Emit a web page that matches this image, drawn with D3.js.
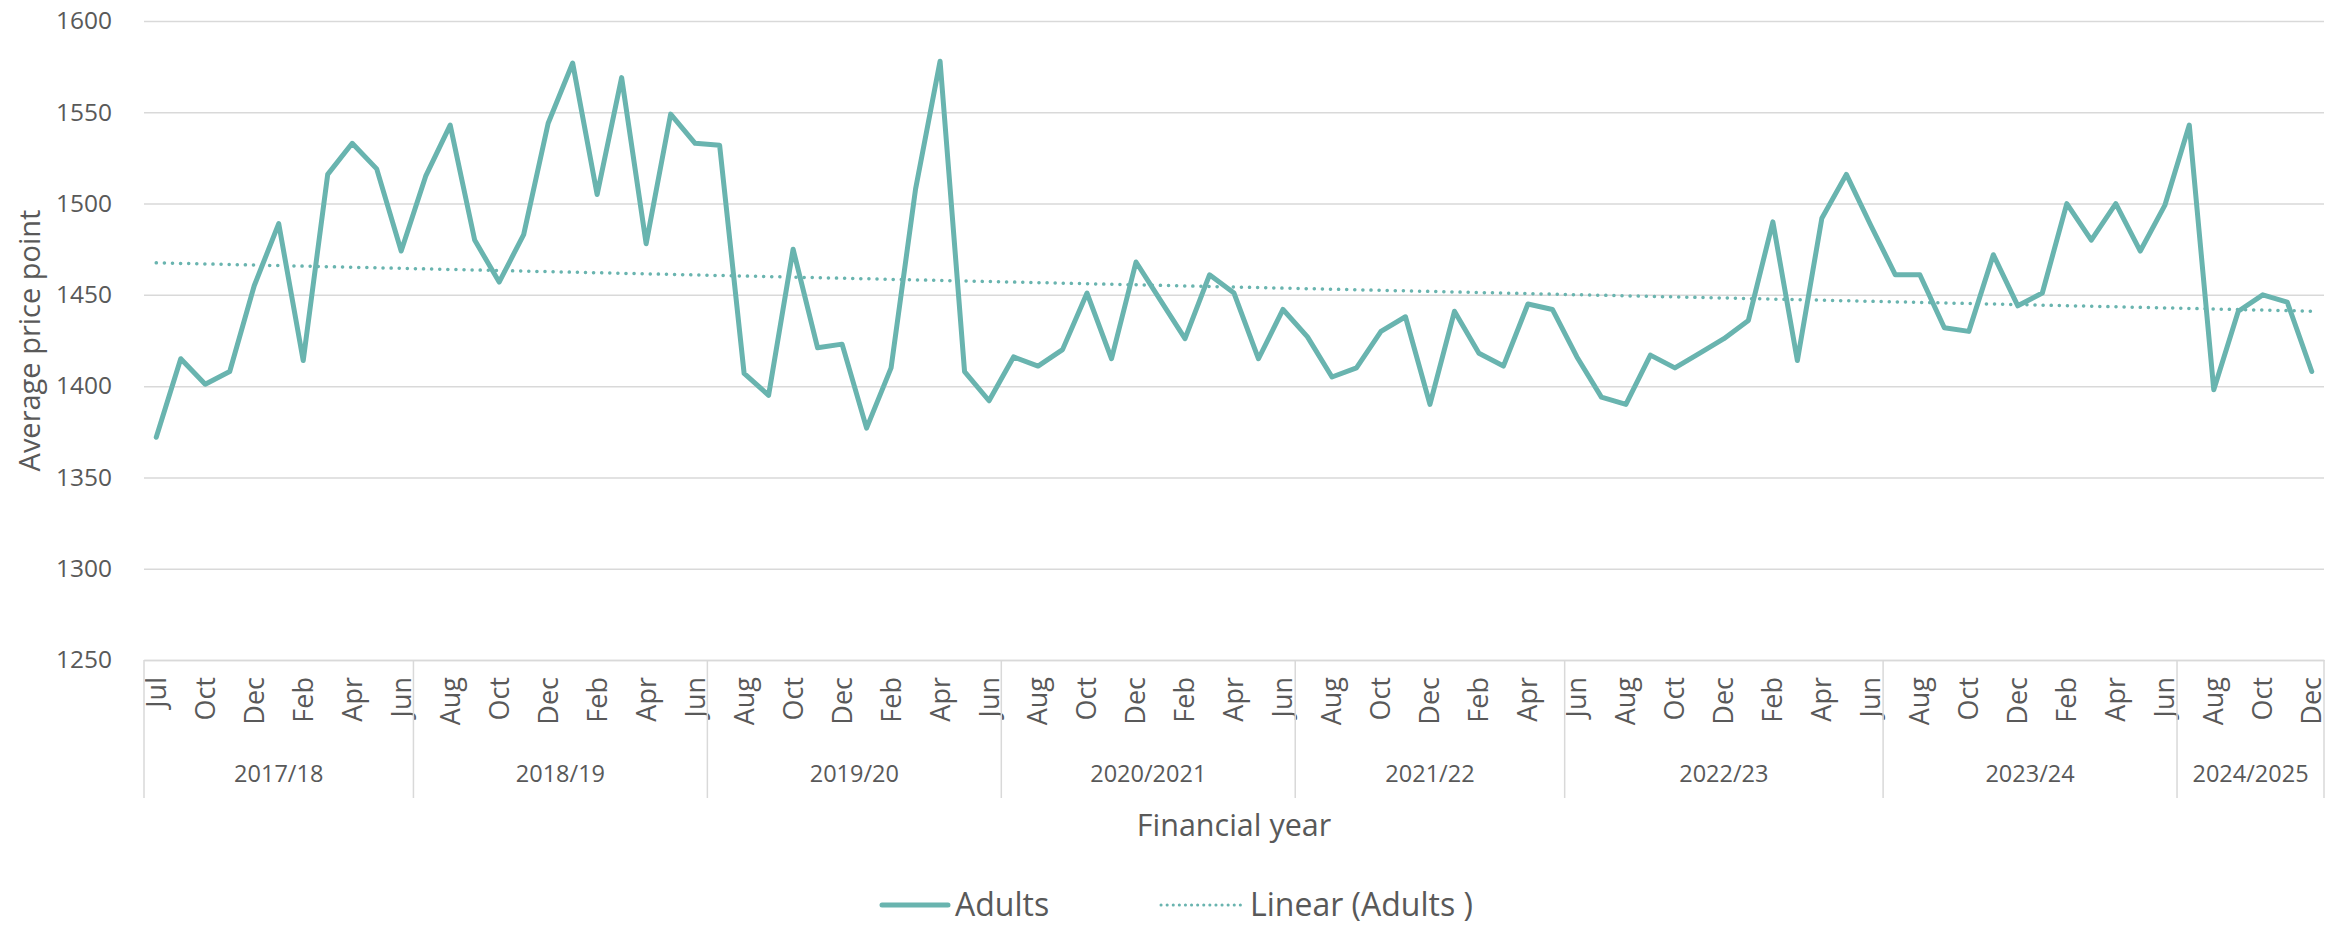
<!DOCTYPE html>
<html>
<head>
<meta charset="utf-8">
<script src="https://cdn.jsdelivr.net/npm/d3@7"></script>
<style>
  body { margin: 0; background: #fff; }
  text { font-family: "Open Sans", sans-serif; fill: #595959; }
</style>
</head>
<body>
<div id="chart-container"></div>
<script>
// one category per month, Sep 2017 is missing from the source
const months = [
  "Jul","Aug","Oct","Nov","Dec","Jan","Feb","Mar","Apr","May","Jun",
  "Jul","Aug","Sep","Oct","Nov","Dec","Jan","Feb","Mar","Apr","May","Jun",
  "Jul","Aug","Sep","Oct","Nov","Dec","Jan","Feb","Mar","Apr","May","Jun",
  "Jul","Aug","Sep","Oct","Nov","Dec","Jan","Feb","Mar","Apr","May","Jun",
  "Jul","Aug","Sep","Oct","Nov","Dec","Jan","Feb","Mar","Apr","May",
  "Jun","Jul","Aug","Sep","Oct","Nov","Dec","Jan","Feb","Mar","Apr","May","Jun",
  "Jul","Aug","Sep","Oct","Nov","Dec","Jan","Feb","Mar","Apr","May","Jun",
  "Jul","Aug","Sep","Oct","Nov","Dec"
];

const adults = [
  1372,1415,1401,1408,1455,1489,1414,1516,1533,1519,1474,
  1515,1543,1480,1457,1483,1544,1577,1505,1569,1478,1549,1533,
  1532,1407,1395,1475,1421,1423,1377,1410,1508,1578,1408,1392,
  1416,1411,1420,1451,1415,1468,1447,1426,1461,1451,1415,1442,
  1427,1405,1410,1430,1438,1390,1441,1418,1411,1445,1442,
  1416,1394,1390,1417,1410,1418,1426,1436,1490,1414,1492,1516,1488,
  1461,1461,1432,1430,1472,1444,1451,1500,1480,1500,1474,1499,
  1543,1398,1441,1450,1446,1408
];

const yearLabels = ["2017/18","2018/19","2019/20","2020/2021","2021/22","2022/23","2023/24","2024/2025"];
const yearCounts = [11, 12, 12, 12, 11, 13, 12, 6];

const yTicks = [1250, 1300, 1350, 1400, 1450, 1500, 1550, 1600];

const width = 2348, height = 927;
const margin = {top: 21, right: 24, bottom: 267, left: 144};
const lineColor = "#69b4af";

const svg = d3.select("#chart-container").append("svg")
  .attr("width", width)
  .attr("height", height);

const idx = d3.range(adults.length);

const xScale = d3.scaleBand()
  .domain(idx)
  .range([margin.left, width - margin.right])
  .padding(0);

const xc = (i) => xScale(i) + xScale.bandwidth() / 2;

const yScale = d3.scaleLinear()
  .domain([1250, 1600])
  .range([height - margin.bottom, margin.top]);

// gridlines + y labels
const yAxis = d3.axisLeft(yScale)
  .tickValues(yTicks)
  .tickSize(-(width - margin.left - margin.right))
  .tickPadding(32)
  .tickFormat(d3.format("d"));

svg.append("g")
  .attr("class", "yAxis")
  .attr("transform", "translate(" + margin.left + ",0)")
  .call(yAxis)
  .call(g => g.select(".domain").remove())
  .call(g => g.selectAll("line").attr("stroke", "#d9d9d9").attr("stroke-width", 1.5))
  .call(g => g.selectAll("text").style("font-size", "24.5px").attr("fill", "#595959"));

// month labels, every second category
const xAxis = d3.axisBottom(xScale)
  .tickValues(idx.filter(i => i % 2 == 0))
  .tickSize(0)
  .tickFormat(i => months[i]);

const xg = svg.append("g")
  .attr("class", "timeAxis")
  .attr("transform", "translate(0," + (height - margin.bottom) + ")")
  .call(xAxis);

xg.select(".domain").attr("stroke", "#d9d9d9").attr("stroke-width", 1.5);
xg.selectAll("text")
  .style("font-size", "27px")
  .attr("fill", "#595959")
  .attr("text-anchor", "end")
  .attr("dy", "0.35em")
  .attr("transform", "translate(0,17) rotate(-90)")
  .attr("x", 0)
  .attr("y", 0);

// financial year groups
let bounds = [0];
yearCounts.forEach(c => bounds.push(bounds[bounds.length - 1] + c));

const groupG = svg.append("g").attr("class", "groups");
const y0 = height - margin.bottom;

bounds.forEach(b => {
  const bx = b < adults.length ? xScale(b) : xScale(adults.length - 1) + xScale.bandwidth();
  groupG.append("line")
    .attr("x1", bx).attr("x2", bx)
    .attr("y1", y0).attr("y2", y0 + 138)
    .attr("stroke", "#d9d9d9")
    .attr("stroke-width", 1.5);
});

yearLabels.forEach((lab, k) => {
  const a = xScale(bounds[k]);
  const b = bounds[k + 1] < adults.length ? xScale(bounds[k + 1]) : xScale(adults.length - 1) + xScale.bandwidth();
  groupG.append("text")
    .attr("x", (a + b) / 2)
    .attr("y", y0 + 122)
    .attr("text-anchor", "middle")
    .style("font-size", "23.5px")
    .text(lab);
});

// linear trendline, least squares over category index
const n = adults.length;
const mx = d3.mean(idx), my = d3.mean(adults);
const slope = d3.sum(idx, i => (i - mx) * (adults[i] - my)) / d3.sum(idx, i => (i - mx) * (i - mx));
const icept = my - slope * mx;
const trend = [0, n - 1].map(i => [i, icept + slope * i]);

const line = d3.line()
  .x(d => xc(d[0]))
  .y(d => yScale(d[1]));

svg.append("path")
  .datum(trend)
  .attr("fill", "none")
  .attr("stroke", lineColor)
  .attr("stroke-width", 3.5)
  .attr("stroke-linecap", "round")
  .attr("stroke-dasharray", "0.1 8")
  .attr("d", line);

svg.append("path")
  .datum(idx.map(i => [i, adults[i]]))
  .attr("fill", "none")
  .attr("stroke", lineColor)
  .attr("stroke-width", 5)
  .attr("stroke-linejoin", "round")
  .attr("stroke-linecap", "round")
  .attr("d", line);

// axis titles
svg.append("text")
  .attr("transform", "translate(30," + ((margin.top + y0) / 2) + ") rotate(-90)")
  .attr("text-anchor", "middle")
  .attr("dy", "0.35em")
  .style("font-size", "29px")
  .attr("fill", "#404040")
  .text("Average price point");

svg.append("text")
  .attr("x", (margin.left + width - margin.right) / 2)
  .attr("y", 836)
  .attr("text-anchor", "middle")
  .style("font-size", "30.5px")
  .attr("fill", "#404040")
  .text("Financial year");

// legend
const ly = 905;
const legend = svg.append("g").attr("class", "legend");
legend.append("line")
  .attr("x1", 882).attr("x2", 948)
  .attr("y1", ly).attr("y2", ly)
  .attr("stroke", lineColor).attr("stroke-width", 5).attr("stroke-linecap", "round");
legend.append("text")
  .attr("x", 955).attr("y", ly).attr("dy", "0.35em")
  .style("font-size", "32px").attr("fill", "#595959")
  .text("Adults");
legend.append("line")
  .attr("x1", 1161).attr("x2", 1242)
  .attr("y1", ly).attr("y2", ly)
  .attr("stroke", lineColor).attr("stroke-width", 3)
  .attr("stroke-linecap", "round").attr("stroke-dasharray", "0.1 6");
legend.append("text")
  .attr("x", 1250).attr("y", ly).attr("dy", "0.35em")
  .style("font-size", "32px").attr("fill", "#595959")
  .text("Linear (Adults )");
</script>
</body>
</html>
